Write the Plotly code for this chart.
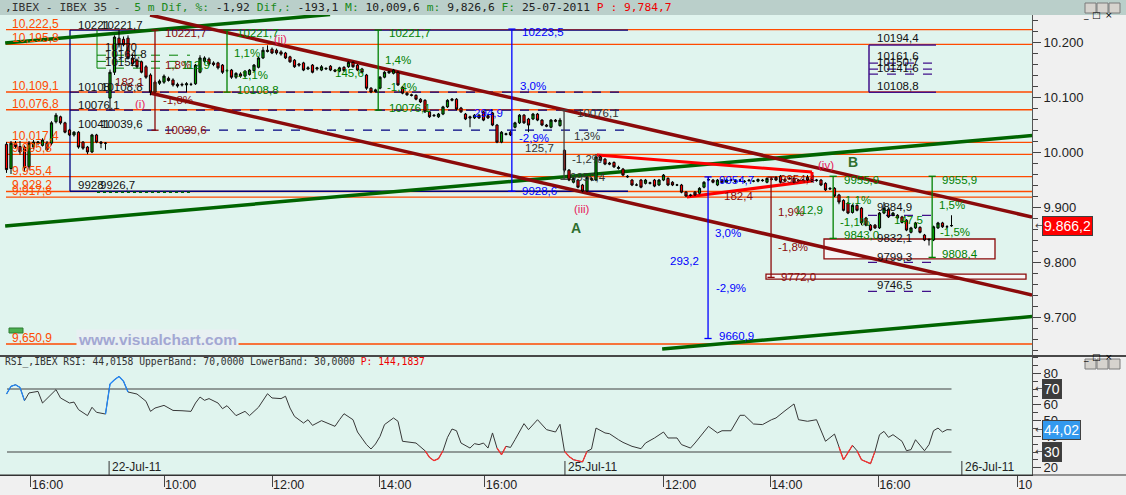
import plotly.graph_objects as go

# ---------------- data ----------------
bars = list(range(-23, 188))  # 5-minute bar slots (0 = 22-Jul 09:00)

opens = [
    # 21-Jul (afternoon)
    10014, 9970, 10016, 10010, 10009, 9973, 10009, 10016, 10012, 10016, 10016, 10055,
    10064, 10053, 10040, 10031, 10036, 10018, 10009, 10000, 10031, 10018, 10016,
    # 22-Jul
    10098, 10145, 10207, 10205, 10207, 10171, 10167, 10164, 10155, 10140, 10109, 10125,
    10127, 10134, 10131, 10123, 10123, 10122, 10123, 10124, 10145, 10165, 10169, 10162,
    10162, 10158, 10148, 10149, 10136, 10142, 10138, 10141, 10148, 10154, 10171, 10185,
    10187, 10185, 10182, 10180, 10173, 10167, 10160, 10162, 10151, 10158, 10151, 10149,
    10151, 10156, 10149, 10147, 10154, 10155, 10163, 10158, 10151, 10140, 10116, 10110,
    10116, 10136, 10144, 10143, 10145, 10118, 10107, 10104, 10103, 10096, 10094, 10073,
    10067, 10064, 10069, 10082, 10094, 10096, 10080, 10069, 10064, 10062, 10067, 10073,
    10066, 10071, 10049, 10018, 10032, 10036, 10045, 10053, 10067, 10060, 10060, 10069,
    10058, 10049, 10045, 10058, 10048,
    # 25-Jul
    10003, 9967, 9945, 9949, 9940, 9929, 9952, 9949, 9991, 9987, 9980, 9981,
    9970, 9969, 9956, 9949, 9940, 9949, 9943, 9943, 9949, 9940, 9949, 9952,
    9945, 9940, 9940, 9927, 9922, 9927, 9925, 9936, 9949, 9949, 9940, 9949,
    9945, 9949, 9948, 9949, 9947, 9949, 9947, 9947, 9949, 9945, 9950, 9954,
    9956, 9947, 9952, 9952, 9949, 9949, 9954, 9949, 9948, 9949, 9943, 9934,
    9934, 9922, 9912, 9907, 9890, 9903, 9898, 9880, 9867, 9867, 9862, 9889,
    9896, 9885, 9885, 9882, 9876, 9854, 9862, 9863, 9849, 9840, 9840, 9862,
    9871, 9864, 9866,
]
highs = [
    10018, 10020, 10020, 10020, 10012, 10020, 10022, 10020, 10025, 10020, 10056, 10071,
    10066, 10055, 10042, 10038, 10038, 10020, 10011, 10033, 10033, 10020, 10018,
    10150, 10212, 10221.7, 10210, 10212, 10178, 10170, 10166, 10158, 10143, 10130, 10132,
    10141, 10137, 10134, 10126, 10126, 10127, 10126, 10160, 10176, 10174, 10172, 10165,
    10164, 10160, 10151, 10151, 10145, 10145, 10149, 10151, 10160, 10173, 10191, 10194,
    10190, 10188, 10185, 10182, 10175, 10169, 10162, 10164, 10156, 10160, 10155, 10158,
    10154, 10158, 10151, 10155, 10156, 10165, 10165, 10160, 10153, 10142, 10118, 10115,
    10138, 10147, 10148, 10151, 10147, 10120, 10109, 10106, 10105, 10098, 10096, 10075,
    10069, 10071, 10084, 10096, 10098, 10098, 10082, 10071, 10066, 10069, 10069, 10075,
    10068, 10073, 10051, 10038, 10035, 10038, 10055, 10069, 10069, 10062, 10071, 10071,
    10060, 10051, 10060, 10060, 10062,
    10005, 9969, 9954, 9951, 9942, 9956, 9954, 9996, 9993, 9989, 9982, 9983,
    9975, 9971, 9958, 9951, 9943, 9951, 9951, 9946, 9951, 9951, 9960, 9954,
    9947, 9942, 9942, 9929, 9924, 9929, 9936, 9947, 9954.7, 9951, 9951, 9951,
    9951, 9951, 9950, 9951, 9949, 9951, 9949, 9952, 9951, 9954, 9954.4, 9956,
    9958, 9952, 9954, 9954, 9951, 9951, 9958, 9951, 9951, 9951, 9945, 9936,
    9936, 9924, 9914, 9909, 9905, 9905, 9900, 9882, 9869, 9869, 9891, 9909,
    9898, 9891, 9887, 9884, 9878, 9864, 9873, 9865, 9851, 9843, 9866, 9873,
    9873, 9867, 9885,
]
lows = [
    9962, 9960, 10006, 9995, 9964, 9968, 10005, 10012, 10010, 10002, 10012, 10052,
    10050, 10034, 10029, 10028, 10006, 10004, 9996, 9998, 10016, 10007, 10004,
    10076, 10140, 10190, 10192, 10168, 10156, 10152, 10143, 10133, 10103, 10106, 10122,
    10124, 10128, 10119, 10117, 10119, 10109, 10120, 10122, 10143, 10162, 10157, 10156,
    10150, 10142, 10145, 10133, 10133, 10135, 10136, 10139, 10146, 10152, 10169, 10181,
    10178, 10177, 10175, 10169, 10162, 10153, 10155, 10147, 10149, 10143, 10148, 10147,
    10149, 10147, 10145, 10145, 10146, 10153, 10153, 10147, 10143, 10113, 10107, 10108,
    10114, 10134, 10142, 10141, 10120, 10105, 10102, 10101, 10094, 10089, 10071, 10062,
    10064, 10062, 10067, 10080, 10092, 10076, 10071, 10058, 10045, 10060, 10060, 10056,
    10060, 10047, 10016, 10016, 10030, 10029, 10043, 10051, 10051, 10036, 10058, 10056,
    10047, 10045, 10043, 10054, 10046,
    9963, 9947, 9943, 9934, 9926.7, 9927, 9947, 9947, 9983, 9976, 9976, 9971,
    9968, 9956, 9953, 9938, 9938, 9934, 9941, 9941, 9936, 9938, 9947, 9938,
    9938, 9938, 9925, 9918, 9919, 9920, 9923, 9934, 9947, 9943, 9938, 9943,
    9943, 9947, 9944, 9947, 9944, 9946, 9945, 9945, 9946, 9943, 9948, 9947,
    9943, 9945, 9950, 9943, 9946, 9947, 9947, 9945, 9946, 9938, 9929, 9931,
    9918, 9905, 9892, 9887, 9888, 9892, 9867, 9865, 9856, 9860, 9860, 9887,
    9880, 9883, 9878, 9870, 9856, 9852, 9860, 9852, 9838, 9830, 9838, 9860,
    9862, 9862, 9864,
]
closes = [
    9968, 10016, 10010, 10000, 9971, 10016, 10018, 10018, 10022, 10004, 10053, 10067,
    10053, 10036, 10031, 10036, 10009, 10007, 10000, 10031, 10018, 10016, 10016,
    10145, 10209, 10195, 10195, 10171, 10160, 10155, 10145, 10136, 10109, 10127, 10129,
    10138, 10130, 10122, 10120, 10122, 10124, 10123, 10158, 10171, 10171, 10160, 10159,
    10153, 10145, 10148, 10136, 10143, 10138, 10147, 10149, 10158, 10171, 10185, 10183,
    10180, 10180, 10178, 10171, 10164, 10155, 10158, 10149, 10153, 10145, 10153, 10155,
    10152, 10149, 10147, 10153, 10148, 10163, 10155, 10149, 10145, 10116, 10109, 10113,
    10136, 10145, 10146, 10149, 10122, 10107, 10104, 10103, 10096, 10091, 10073, 10064,
    10066, 10069, 10082, 10094, 10096, 10078, 10073, 10060, 10062, 10067, 10062, 10058,
    10062, 10049, 10018, 10036, 10033, 10031, 10053, 10067, 10053, 10049, 10069, 10058,
    10049, 10047, 10058, 10056, 10058,
    9967, 9949, 9952, 9936, 9929, 9954, 9950, 9991, 9985, 9978, 9978, 9973,
    9972, 9958, 9955, 9940, 9940, 9936, 9949, 9944, 9938, 9949, 9958, 9940,
    9940, 9940, 9927, 9920, 9921, 9922, 9934, 9945, 9950, 9945, 9949, 9945,
    9949, 9949, 9946, 9949, 9946, 9948, 9947, 9950, 9948, 9952, 9951, 9949,
    9945, 9950, 9952, 9945, 9948, 9949, 9949, 9947, 9949, 9940, 9931, 9933,
    9920, 9909, 9894, 9889, 9903, 9894, 9871, 9867, 9858, 9862, 9889, 9898,
    9882, 9889, 9880, 9872, 9858, 9862, 9871, 9854, 9840, 9841, 9864, 9871,
    9864, 9864, 9866.2,
]

rsi_bar = [-23, -22, -21, -20, -19, -18, -16, -15, -12, -11, -9, -8, -7, -5, -4, -3, -1,
           0, 1, 2, 3, 4, 6, 8, 9, 10, 12, 14, 16, 18, 19, 20, 21, 22, 24, 25, 26, 28, 30,
           31, 33, 35, 36, 38, 39, 40, 41, 43, 44, 45, 47, 50, 51, 52, 54, 55, 57, 58, 59,
           60, 61, 63, 64, 65, 68, 70, 71, 72, 73, 74, 75, 76, 77, 78, 80, 81, 82, 83, 84,
           85, 86, 87, 88, 89, 90, 92, 93, 95, 97, 99, 100,
           101, 102, 103, 105, 106, 107, 108, 110, 111, 113, 114, 116, 118, 119, 121, 123,
           124, 126, 127, 129, 130, 133, 135, 136, 138, 140, 141, 143, 145, 147, 148, 150,
           152, 153, 155, 157, 159, 161, 162, 163, 165, 166, 167, 169, 170, 171, 172, 173,
           174, 176, 177, 178, 179, 181, 182, 183, 184, 185, 186, 187]
rsi_val = [66.8, 71.7, 72.7, 71.0, 62.6, 67.5, 68.5, 61.1, 69.6, 64.3, 61.1, 61.7, 56.9,
           53.1, 58.4, 55.2, 54.1,
           73.2, 75.9, 78.0, 74.9, 68.1, 66.8, 62.2, 55.8, 57.9, 59.6, 56.4, 56.2, 55.8,
           61.1, 64.9, 62.8, 63.9, 61.1, 57.5, 59.4, 53.1, 55.8, 53.1, 58.4, 67.0, 64.3,
           63.9, 65.4, 57.9, 52.6, 48.4, 50.5, 46.9, 49.9, 46.3, 50.5, 54.3, 50.5, 42.7,
           34.7, 31.9, 35.1, 39.9, 47.4, 51.6, 49.5, 36.8, 35.7, 30.8, 26.6, 24.5, 25.8,
           30.8, 39.3, 44.6, 43.5, 35.7, 32.5, 35.3, 34.7, 35.7, 32.5, 42.1, 32.5, 28.3,
           33.6, 32.9, 37.8, 48.0, 44.2, 50.5, 44.2, 42.7, 47.6,
           30.4, 27.2, 25.1, 23.7, 30.4, 31.9, 45.2, 42.1, 41.6, 37.8, 36.1, 33.6, 32.1,
           35.7, 38.9, 42.7, 38.9, 38.9, 34.7, 32.5, 35.7, 46.3, 42.1, 43.5, 43.5, 53.3,
           53.3, 47.8, 47.4, 50.5, 51.6, 56.2, 60.5, 50.5, 49.5, 50.5, 36.8, 41.4, 33.0,
           25.1, 34.2, 30.8, 25.1, 22.6, 30.4, 41.0, 43.1, 39.3, 41.0, 36.8, 30.8, 31.5,
           37.8, 30.8, 34.7, 43.5, 45.2, 42.7, 44.2, 44.02]
rsi_upper, rsi_lower = 70, 30

tick_slots = [-17.6, 12, 36, 59.8, 83.3, 123.1, 146.7, 170.7, 201.6]
tick_text = ["16:00", "10:00", "12:00", "14:00", "16:00", "12:00", "14:00", "16:00", "10"]
date_slots = [-0.2, 101.1, 189.3]
date_text = ["22-Jul-11", "25-Jul-11", "26-Jul-11"]

level_prices = [10222.5, 10195.8, 10109.1, 10076.8, 10017.4, 9995.8, 9955.4, 9928.2, 9917.8, 9650.9]
level_text = ["10,222,5", "10,195,8", "10,109,1", "10,076,8", "10,017,4", "9,995,8",
              "9,955,4", "9,928,2", "9,917,8", "9,650,9"]

# channel / trend lines: (slot, price) end points
trend_x0 = [-23.3, -23.3, 122.7, 8.9, 8.9]
trend_p0 = [10198.2, 9865.5, 9641.8, 10249.0, 10107.3]
trend_x1 = [48.9, 204.9, 204.9, 204.9, 204.9]
trend_p1 = [10250.0, 10029.8, 9700.7, 9881.8, 9740.0]
wedge_x0 = [108.2, 128.2, 156.0]
wedge_p0 = [9994.5, 9918.2, 9963.6]
wedge_x1 = [156.0, 156.0, 156.0]
wedge_p1 = [9963.6, 9947.3, 9947.3]

# measuring arrows
meas_slot = [10.0, 26.0, 59.6, 89.3, 100.9, 132.9, 146.9, 160.7, 182.7]
meas_top = [10221.7, 10221.7, 10221.7, 10223.5, 10076.1, 9954.7, 9954.4, 9955.9, 9955.9]
meas_bot = [10039.6, 10108.8, 10076.1, 9928.6, 9950.4, 9660.9, 9772.0, 9843.0, 9808.4]

navy_levels = [10221.7, 9928.6]
navy_dash = [10108.8, 10076.1, 10039.6]
purple_box = [10194.4, 10108.8]
purple_dash_hi = [10161.6, 10150.7, 10141.6]
purple_dash_lo = [9884.9, 9832.1, 9799.3, 9746.5]
green_dash = [10176.0, 10164.8, 10152.5]
box_low = [9778.0, 9769.0]
box_mid = [9841.8, 9805.5]
last_price = 9866.2
last_rsi = 44.02

# ---------------- styling helpers ----------------
BG = "#e0f4ee"
PAPER = "#f0f0f0"
ORANGE = "#ff4a00"
MAROON = "#8b0a0a"
DGREEN = "#006400"
GREEN = "#008000"
NAVY = "#000080"
BLUE = "#0000ff"
PURPLE = "#40108a"
CRIMSON = "#e8185a"
FONT = "Liberation Sans"

W, H = 1126, 495
ML, MR, MT, MB = 0, 94, 15, 20
PW = W - ML - MR
PH = H - MT - MB


def sx(px):
    return (px - 110) / 4.5


def pp(py):
    return 10000 + (152 - py) / 0.55


def rr(py):
    return 70 - (py - 389) / 1.575


def paper_x(px):
    return (px - ML) / PW


def paper_y(py):
    return (H - MB - py) / PH


shapes = []
annotations = []


def hline(x0, x1, y, color, width=1, dash="solid", yref="y"):
    shapes.append(dict(type="line", xref="x", yref=yref, x0=x0, x1=x1, y0=y, y1=y,
                       line=dict(color=color, width=width, dash=dash), layer="below"))


def seg(x0, y0, x1, y1, color, width=1, dash="solid", layer="below"):
    shapes.append(dict(type="line", xref="x", yref="y", x0=x0, x1=x1, y0=y0, y1=y1,
                       line=dict(color=color, width=width, dash=dash), layer=layer))


def label(px, py, text, color, size=11.5, bold=False, yref="y", bg=None):
    t = f"<b>{text}</b>" if bold else text
    a = dict(x=sx(px), y=pp(py) if yref == "y" else rr(py), xref="x", yref=yref,
             text=t, showarrow=False, xanchor="left", yanchor="middle",
             font=dict(family=FONT, size=size, color=color))
    if bg:
        a["bgcolor"] = bg
    annotations.append(a)


XMIN, XMAX = sx(0), sx(PW)

# orange horizontal levels with left labels
for p, t in zip(level_prices, level_text):
    hline(sx(6), XMAX, p, ORANGE, 1.3)
    label(10, 152 - (p - 10000) * 0.55 - 6, t, ORANGE, 12)

# navy bracket
for p in navy_levels:
    hline(sx(70), sx(628), p, NAVY, 1.3)
seg(sx(70), navy_levels[0], sx(70), navy_levels[1], NAVY, 1.3)
hline(sx(70), sx(628), navy_dash[0], NAVY, 1.2, "dash")
hline(sx(70), sx(628), navy_dash[1], NAVY, 1.2, "dash")
hline(sx(147), sx(628), navy_dash[2], NAVY, 1.2, "dash")

# green dashed block on the left
seg(sx(97), 10221.7, sx(97), green_dash[2], GREEN, 1)
for p in green_dash:
    hline(sx(97), sx(190), p, GREEN, 1, "dash")
hline(sx(97), sx(190), 9926.7, DGREEN, 1.5, "dot")

# purple boxes / dashed projections
hline(sx(869), sx(936), purple_box[0], PURPLE, 1.5)
hline(sx(869), sx(936), purple_box[1], PURPLE, 1.5)
seg(sx(869), purple_box[0], sx(869), purple_box[1], PURPLE, 1.5)
for p in purple_dash_hi:
    hline(sx(869), sx(936), p, PURPLE, 1.2, "dash")
for p in purple_dash_lo:
    hline(sx(868), sx(937), p, PURPLE, 1.2, "dash")

# maroon rectangles
shapes.append(dict(type="rect", xref="x", yref="y", x0=sx(766), x1=sx(1026), y0=box_low[1],
                   y1=box_low[0], line=dict(color=MAROON, width=1.3), fillcolor="#f6f6f6",
                   layer="below"))
shapes.append(dict(type="rect", xref="x", yref="y", x0=sx(824), x1=sx(995), y0=box_mid[1],
                   y1=box_mid[0], line=dict(color=MAROON, width=1.3), fillcolor="#f6f6f6",
                   layer="below"))

# thick channel lines
tcolors = [DGREEN, DGREEN, DGREEN, MAROON, MAROON]
for x0, p0, x1, p1, c in zip(trend_x0, trend_p0, trend_x1, trend_p1, tcolors):
    seg(x0, p0, x1, p1, c, 3.5)
for x0, p0, x1, p1 in zip(wedge_x0, wedge_p0, wedge_x1, wedge_p1):
    seg(x0, p0, x1, p1, "#ff0000", 3)

# measuring arrows
mcolors = [MAROON, GREEN, GREEN, BLUE, "#404040", BLUE, MAROON, GREEN, GREEN]
for xs, pt, pb, c in zip(meas_slot, meas_top, meas_bot, mcolors):
    seg(xs, pt, xs, pb, c, 1.3, layer="above")
    seg(xs - 0.8, pt, xs + 0.8, pt, c, 1.3, layer="above")
    seg(xs - 0.8, pb, xs + 0.8, pb, c, 1.3, layer="above")

# RSI bands
for lv in (rsi_upper, rsi_lower):
    hline(sx(7), rsi_bar[-1], lv, "#404040", 1.2, yref="y2")

# date markers inside RSI pane
for s, t in zip(date_slots, date_text):
    shapes.append(dict(type="line", xref="x", yref="y2", x0=s, x1=s, y0=rr(461), y1=rr(475),
                       line=dict(color="#333", width=1)))
    annotations.append(dict(x=s, y=rr(467), xref="x", yref="y2", text=t, showarrow=False,
                            xanchor="left", yanchor="middle", xshift=1,
                            font=dict(family=FONT, size=12, color="#222")))

# text labels on the price pane
BLK = "#111111"
texts = [
    (76, 25, "10221", BLK), (99, 25, "10221,7", BLK),
    (76, 87, "10108", BLK), (99, 87, "10108,8", BLK),
    (76, 105, "10076,1", BLK),
    (76, 124, "10041", BLK), (99, 124, "10039,6", BLK),
    (76, 185, "9928", BLK), (98, 185, "9926,7", BLK),
    (103, 47, "10170", BLK), (103, 54, "10164,8", BLK), (103, 62, "10152", BLK),
    (113, 82, "182,1", MAROON), (163, 33, "10221,7", MAROON), (163, 65, "1,8%", MAROON),
    (161, 100, "-1,8%", MAROON), (163, 130, "10039,6", MAROON),
    (180, 65, "112,9", GREEN), (235, 33, "10221,7", GREEN), (232, 53, "1,1%", GREEN),
    (236, 75, "-1,1%", GREEN), (235, 90, "10108,8", GREEN),
    (133, 104, "(i)", CRIMSON), (272, 39, "(ii)", CRIMSON),
    (333, 73, "145,6", GREEN), (387, 33, "10221,7", GREEN), (383, 60, "1,4%", GREEN),
    (385, 87, "-1,4%", GREEN), (387, 108, "10076,1", GREEN),
    (472, 113, "294,9", BLUE), (520, 32, "10223,5", BLUE), (518, 86, "3,0%", BLUE),
    (517, 138, "-2,9%", BLUE), (520, 191, "9928,6", BLUE),
    (575, 113, "10076,1", "#333333"), (572, 136, "1,3%", "#333333"),
    (523, 148, "125,7", "#333333"), (570, 159, "-1,2%", "#333333"),
    (568, 177, "9950,4", "#333333"),
    (572, 209, "(iii)", CRIMSON),
    (717, 180, "9954,7", BLUE), (713, 233, "3,0%", BLUE), (668, 261, "293,2", BLUE),
    (714, 288, "-2,9%", BLUE), (717, 336, "9660,9", BLUE),
    (778, 179, "9954,4", MAROON), (776, 212, "1,9%", MAROON), (776, 247, "-1,8%", MAROON),
    (779, 277, "9772,0", MAROON), (722, 196, "182,4", MAROON),
    (793, 210, "112,9", GREEN), (816, 165, "(iv)", CRIMSON),
    (842, 180, "9955,9", GREEN), (843, 200, "1,1%", GREEN), (838, 222, "-1,1%", GREEN),
    (842, 235, "9843,0", GREEN),
    (940, 180, "9955,9", GREEN), (937, 205, "1,5%", GREEN), (938, 232, "-1,5%", GREEN),
    (940, 254, "9808,4", GREEN), (892, 220, "147,5", GREEN),
    (875, 207, "9884,9", BLK), (875, 238, "9832,1", BLK), (875, 257, "9799,3", BLK),
    (875, 285, "9746,5", BLK),
    (875, 38, "10194,4", BLK), (875, 56, "10161,6", BLK), (875, 62, "10150,7", BLK),
    (875, 68, "10141,6", BLK), (875, 86, "10108,8", BLK),
]
for px, py, t, c in texts:
    label(px, py, t, c)
label(569, 228, "A", "#2f6f2f", 14, bold=True)
label(846, 162, "B", "#2f6f2f", 14, bold=True)

# watermark
annotations.append(dict(x=sx(76), y=pp(339), xref="x", yref="y", text="<b>www.visualchart.com</b>",
                        showarrow=False, xanchor="left", yanchor="middle", bgcolor="#e8f0f2",
                        font=dict(family=FONT, size=15.5, color="#a3a7d3")))
shapes.append(dict(type="rect", xref="x", yref="y", x0=sx(9), x1=sx(23), y0=pp(333), y1=pp(328),
                   fillcolor="#4caf50", line=dict(color="#2e7d32", width=1)))

# title bar
shapes.append(dict(type="rect", xref="paper", yref="paper", x0=0, x1=W / PW, y0=1,
                   y1=1 + MT / PH, fillcolor="#bacfca", line=dict(width=0)))
title = ("<span style='color:#333'>,IBEX - IBEX 35 - </span>"
         "<span style='color:#1a8a1a'> 5 m Dif, %: </span><span style='color:#222'>-1,92 </span>"
         "<span style='color:#1a8a1a'>Dif,: </span><span style='color:#222'>-193,1 </span>"
         "<span style='color:#1a8a1a'>M: </span><span style='color:#222'>10,009,6 </span>"
         "<span style='color:#1a8a1a'>m: </span><span style='color:#222'>9,826,6 </span>"
         "<span style='color:#1a8a1a'>F: </span><span style='color:#222'>25-07-2011 </span>"
         "<span style='color:#ee0000'>P : 9,784,7</span>")
annotations.append(dict(x=paper_x(3), y=paper_y(8), xref="paper", yref="paper", text=title,
                        showarrow=False, xanchor="left", yanchor="middle",
                        font=dict(family="DejaVu Sans Mono", size=11.3, color="#333")))
annotations.append(dict(x=paper_x(3), y=rr(362), xref="paper", yref="y2",
                        text="RSI_,IBEX RSI: 44,0158 UpperBand: 70,0000 LowerBand: 30,0000 "
                             "<span style='color:#ee0000'>P: 144,1837</span>",
                        showarrow=False, xanchor="left", yanchor="middle",
                        font=dict(family="DejaVu Sans Mono", size=9.7, color="#333")))

# separators
shapes.append(dict(type="line", xref="paper", yref="paper", x0=0, x1=W / PW, y0=paper_y(356),
                   y1=paper_y(356), line=dict(color="#111", width=1.5)))
shapes.append(dict(type="line", xref="paper", yref="paper", x0=0, x1=W / PW, y0=0, y1=0,
                   line=dict(color="#333", width=1.2)))

# window buttons
for top in (3, 359):
    for i, g in enumerate(["_", "□", "×"]):
        x0 = 1085 + i * 12
        shapes.append(dict(type="rect", xref="paper", yref="paper", x0=paper_x(x0),
                           x1=paper_x(x0 + 11), y0=paper_y(top + 10), y1=paper_y(top),
                           fillcolor="#d6d3ce", line=dict(color="#7a7a7a", width=1)))
        annotations.append(dict(x=paper_x(x0 + 5.5), y=paper_y(top + 5), xref="paper",
                                yref="paper", text=g, showarrow=False,
                                font=dict(family="DejaVu Sans", size=9, color="#000")))


# right-side value boxes
def valbox(val, text, bg, yref):
    annotations.append(dict(x=paper_x(1042), y=val, xref="paper", yref=yref, text=text,
                            showarrow=False, xanchor="left", yanchor="middle", bgcolor=bg,
                            bordercolor="#404040", borderwidth=1, borderpad=1,
                            font=dict(family=FONT, size=14, color="white")))
    annotations.append(dict(x=paper_x(1033), y=val, xref="paper", yref=yref, text="←",
                            showarrow=False, xanchor="left", yanchor="middle",
                            font=dict(family="DejaVu Sans", size=10, color="#444")))


valbox(last_price, "9.866,2", "#ff0000", "y")
valbox(rsi_upper, "70", "#3c3c3c", "y2")
valbox(last_rsi, "44,02", "#3399ee", "y2")
valbox(rsi_lower, "30", "#3c3c3c", "y2")

# ---------------- traces ----------------
fig = go.Figure()
fig.add_trace(go.Candlestick(
    x=bars, open=opens, high=highs, low=lows, close=closes, xaxis="x", yaxis="y",
    increasing=dict(line=dict(color="#000000", width=1), fillcolor="#00a000"),
    decreasing=dict(line=dict(color="#000000", width=1), fillcolor="#ff0000"),
    whiskerwidth=0, showlegend=False, hoverinfo="skip"))

fig.add_trace(go.Scatter(x=rsi_bar, y=rsi_val, mode="lines", xaxis="x", yaxis="y2",
                         line=dict(color="#383838", width=1), showlegend=False, hoverinfo="skip"))
bx, by, rx, ry = [], [], [], []
for i in range(len(rsi_val) - 1):
    a, b = rsi_val[i], rsi_val[i + 1]
    if max(a, b) > rsi_upper:
        bx += [rsi_bar[i], rsi_bar[i + 1], None]
        by += [a, b, None]
    if min(a, b) < rsi_lower:
        rx += [rsi_bar[i], rsi_bar[i + 1], None]
        ry += [a, b, None]
fig.add_trace(go.Scatter(x=bx, y=by, mode="lines", xaxis="x", yaxis="y2",
                         line=dict(color="#1e88ff", width=1.2), showlegend=False, hoverinfo="skip"))
fig.add_trace(go.Scatter(x=rx, y=ry, mode="lines", xaxis="x", yaxis="y2",
                         line=dict(color="#ff3030", width=1.2), showlegend=False, hoverinfo="skip"))

fig.update_layout(
    width=W, height=H, margin=dict(l=ML, r=MR, t=MT, b=MB, autoexpand=False),
    paper_bgcolor=PAPER, plot_bgcolor=BG, showlegend=False, separators=",.",
    shapes=shapes, annotations=annotations, hovermode=False,
    xaxis=dict(domain=[0, 1], anchor="y2", range=[XMIN, XMAX], tickmode="array",
               tickvals=tick_slots, ticktext=tick_text, ticks="outside", ticklen=11,
               tickcolor="#444", ticklabelposition="outside right", ticklabelstandoff=-2,
               showgrid=False, automargin=False,
               zeroline=False, showline=True, linecolor="#333",
               tickfont=dict(family=FONT, size=12.5, color="#222"),
               rangeslider=dict(visible=False)),
    yaxis=dict(domain=[paper_y(355), 1], anchor="x", side="right", automargin=False,
               range=[pp(355), pp(15)], dtick=100, tick0=0, tickformat=",d",
               ticks="outside", ticklen=8, tickcolor="#444", showgrid=False, zeroline=False,
               showline=True, linecolor="#555",
               minor=dict(dtick=20, ticks="outside", ticklen=5, tickcolor="#444"),
               tickfont=dict(family=FONT, size=13, color="#222")),
    yaxis2=dict(domain=[0, paper_y(357)], anchor="x", side="right", automargin=False,
                range=[rr(475), rr(357)], tickvals=[20, 40, 50, 60, 80],
                ticks="outside", ticklen=8, tickcolor="#444", showgrid=False, zeroline=False,
                showline=True, linecolor="#555",
                minor=dict(dtick=5, ticks="outside", ticklen=5, tickcolor="#444"),
                tickfont=dict(family=FONT, size=13, color="#222")),
)

fig.write_html("out.html", config={"displayModeBar": False},
               post_script="document.body.style.margin='0';document.body.style.padding='0';")
